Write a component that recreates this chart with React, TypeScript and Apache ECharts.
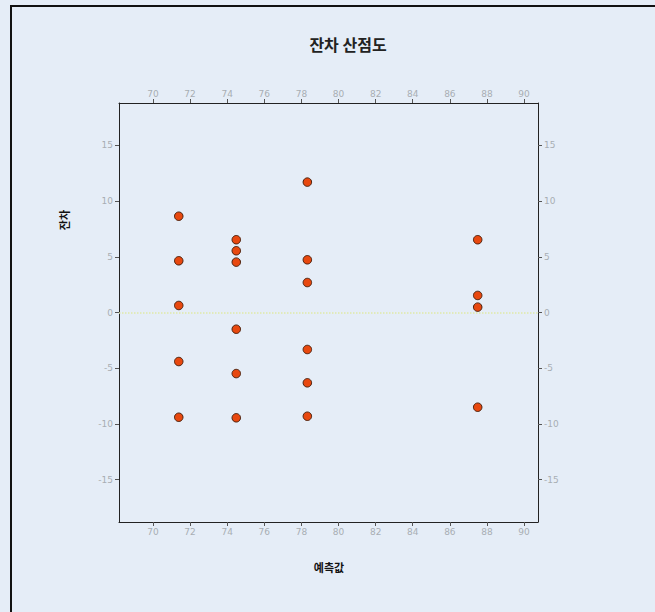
import React, { useEffect, useRef } from "react";
import * as echarts from "echarts";

const titleText = "잔차 산점도";
const xName = "예측값";
const yName = "잔차";
const predicted = [
  71.39, 71.39, 71.39, 71.39, 71.39,
  74.49, 74.49, 74.49, 74.49, 74.49, 74.49,
  78.32, 78.32, 78.32, 78.32, 78.32, 78.32,
  87.5, 87.5, 87.5, 87.5,
];
const residuals = [
  8.64, 4.64, 0.63, -4.4, -9.4,
  6.53, 5.54, 4.52, -1.5, -5.48, -9.45,
  11.7, 4.73, 2.69, -3.32, -6.31, -9.31,
  6.53, 1.53, 0.48, -8.5,
];
const xTicks = [70, 72, 74, 76, 78, 80, 82, 84, 86, 88, 90];
const yTicks = [-15, -10, -5, 0, 5, 10, 15];
const xMin = 68.17;
const xMax = 90.75;
const yMin = -18.8;
const yMax = 18.8;

export default function App() {
  const ref = useRef<HTMLDivElement>(null);
  useEffect(() => {
    if (!ref.current) return;
    const chart = echarts.init(ref.current, undefined, { renderer: "svg" });
    const labelStyle = { color: "#a8adb3", fontSize: 9, fontFamily: "DejaVu Sans" };
    const axisLine = { show: true, onZero: false, lineStyle: { color: "#222", width: 1 } };
    const axisTick = { show: true, length: 4, lineStyle: { color: "#555" } };
    const xAxisDef = (position: string) => ({
      type: "value",
      min: xMin,
      max: xMax,
      position,
      splitLine: { show: false },
      axisLine,
      axisTick: { ...axisTick, customValues: xTicks },
      axisLabel: { ...labelStyle, margin: 5, customValues: xTicks },
    });
    const yAxisDef = (position: string) => ({
      type: "value",
      min: yMin,
      max: yMax,
      position,
      splitLine: { show: false },
      axisLine,
      axisTick: { ...axisTick, customValues: yTicks },
      axisLabel: { ...labelStyle, margin: 6, customValues: yTicks },
    });
    const option: any = {
      animation: false,
      backgroundColor: "#e5edf7",
      grid: { left: 119, right: 117, top: 103, bottom: 90, containLabel: false },
      graphic: [
        {
          type: "rect",
          shape: { x: 11, y: 6, width: 700, height: 700 },
          style: { fill: "none", stroke: "#111", lineWidth: 2 },
          silent: true,
        },
        {
          type: "text",
          x: 348,
          y: 44,
          style: {
            text: titleText,
            fill: "#222",
            font: "bold 16px 'Noto Sans CJK KR'",
            textAlign: "center",
            textVerticalAlign: "middle",
          },
        },
        {
          type: "text",
          x: 329,
          y: 567,
          style: {
            text: xName,
            fill: "#111",
            font: "bold 11px 'Noto Sans CJK KR'",
            textAlign: "center",
            textVerticalAlign: "middle",
          },
        },
        {
          type: "text",
          x: 64,
          y: 220,
          rotation: Math.PI / 2,
          style: {
            text: yName,
            fill: "#111",
            font: "bold 11px 'Noto Sans CJK KR'",
            textAlign: "center",
            textVerticalAlign: "middle",
          },
        },
      ],
      xAxis: [xAxisDef("bottom"), xAxisDef("top")],
      yAxis: [yAxisDef("left"), yAxisDef("right")],
      series: [
        {
          type: "scatter",
          xAxisIndex: 0,
          yAxisIndex: 0,
          data: predicted.map((x, i) => [x, residuals[i]]),
          symbolSize: 8.5,
          itemStyle: { color: "#e8480f", borderColor: "#4a200c", borderWidth: 1, opacity: 1 },
          markLine: {
            silent: true,
            symbol: "none",
            label: { show: false },
            lineStyle: { color: "#dfe9a8", type: "dotted", width: 1.5 },
            data: [{ yAxis: 0 }],
          },
        },
      ],
    };
    chart.setOption(option);
    return () => chart.dispose();
  }, []);
  return (
    <div
      ref={ref}
      style={{ position: "absolute", left: 0, top: 0, width: 655, height: 612 }}
    />
  );
}
